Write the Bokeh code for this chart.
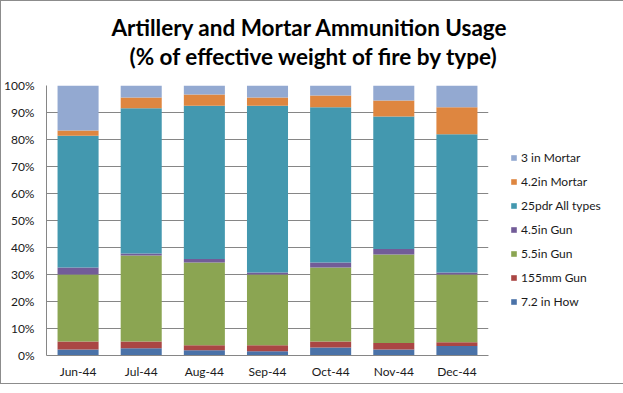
from bokeh.plotting import figure
from bokeh.models import (Legend, LegendItem, Title, PrintfTickFormatter, FixedTicker,
                          Range1d, ColumnDataSource)
from bokeh.embed import file_html
from bokeh.resources import INLINE

months = ["Jun-44", "Jul-44", "Aug-44", "Sep-44", "Oct-44", "Nov-44", "Dec-44"]
series_keys = ["how72", "gun155", "gun55", "gun45", "pdr25", "mortar42", "mortar3"]
series_labels = ["7.2 in How", "155mm Gun", "5.5in Gun", "4.5in Gun",
                 "25pdr All types", "4.2in Mortar", "3 in Mortar"]
how72 = [2.2, 2.7, 1.9, 1.6, 3.0, 2.2, 3.5]
gun155 = [3.0, 2.5, 1.9, 2.2, 2.2, 2.4, 1.4]
gun55 = [24.8, 31.8, 30.6, 26.2, 27.4, 32.8, 25.1]
gun45 = [2.6, 0.8, 1.3, 0.7, 1.8, 2.0, 0.7]
pdr25 = [48.8, 53.8, 56.8, 61.8, 57.5, 49.1, 51.2]
mortar42 = [1.9, 4.0, 4.2, 3.1, 4.4, 5.9, 10.0]
mortar3 = [16.7, 4.4, 3.3, 4.4, 3.7, 5.6, 8.1]
colors = ["#4A72A8", "#AA4644", "#8BA552", "#725C98", "#4398AF", "#DE8640", "#93A9D1"]
y_ticks = [0, 10, 20, 30, 40, 50, 60, 70, 80, 90, 100]
title_lines = ["Artillery and Mortar Ammunition Usage",
               "(% of effective weight of fire by type)"]

FONT = "Lato"

source = ColumnDataSource(data=dict(month=months, how72=how72, gun155=gun155, gun55=gun55,
                                    gun45=gun45, pdr25=pdr25, mortar42=mortar42,
                                    mortar3=mortar3))

p = figure(x_range=months, y_range=Range1d(0, 100), title=None,
           frame_width=442, frame_height=270,
           output_backend="svg", toolbar_location=None,
           min_border_left=42, min_border_right=122, min_border_top=84,
           min_border_bottom=28)
p.x_range.range_padding = 0
p.outline_line_color = None
p.styles = {"border": "1px solid #8c8c8c"}

renderers = p.vbar_stack(series_keys, x="month", width=0.65, color=colors,
                         line_color=None, source=source)

# axes
p.yaxis.ticker = FixedTicker(ticks=y_ticks)
p.yaxis.formatter = PrintfTickFormatter(format="%d%%")
for ax in (p.xaxis[0], p.yaxis[0]):
    ax.axis_line_color = "#868686"
    ax.major_tick_line_color = None
    ax.minor_tick_line_color = None
    ax.major_tick_out = 0
    ax.major_tick_in = 0
    ax.major_label_text_font = FONT
    ax.major_label_text_font_size = "12px"
    ax.major_label_text_color = "#1a1a1a"
p.yaxis.major_label_standoff = 12
p.xaxis.major_label_standoff = 8
p.xgrid.grid_line_color = None
p.ygrid.grid_line_color = "#868686"

# legend
items = [LegendItem(label=lab, renderers=[r]) for lab, r in zip(series_labels, renderers)]
items.reverse()
legend = Legend(items=items, location=(22, 44), margin=0, padding=0,
                glyph_width=7, glyph_height=7, label_height=20, spacing=4,
                label_standoff=4, border_line_color=None, background_fill_alpha=0,
                label_text_font=FONT, label_text_font_size="12px",
                label_text_color="#1a1a1a")
p.add_layout(legend, "right")

# title: a small spacer, then the second line, then the first line (outermost)
p.add_layout(Title(text=" ", text_font=FONT, text_font_size="11px", standoff=1), "above")
for txt, off in zip(reversed(title_lines), [83, 65]):
    p.add_layout(Title(text=txt, align="left", offset=off, text_font=FONT,
                       text_font_style="bold", text_font_size="22.5px",
                       text_color="#000000", standoff=0), "above")

open("out.html", "w").write(file_html(p, INLINE))
